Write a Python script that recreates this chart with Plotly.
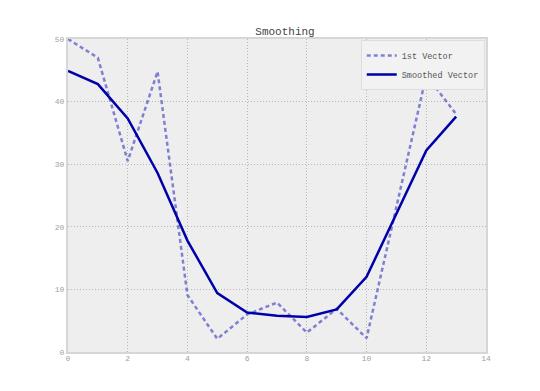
import plotly.graph_objects as go

x_vals = list(range(14))
first_vector = [50, 47, 30.5, 44.8, 9.1, 2.1, 6.0, 7.9, 3.1, 6.9, 2.2, 23.2, 44.2, 38.0]
smoothed_vector = [44.9, 42.8, 37.3, 28.6, 17.8, 9.4, 6.3, 5.8, 5.6, 6.8, 12.0, 22.1, 32.2, 37.6]
x_ticks = [0, 2, 4, 6, 8, 10, 12, 14]
y_ticks = [0, 10, 20, 30, 40, 50]

mono = "Liberation Mono, DejaVu Sans Mono, monospace"

fig = go.Figure()
fig.add_trace(go.Scatter(
    x=x_vals, y=first_vector, mode="lines", name="1st Vector",
    line=dict(color="rgba(80,80,200,0.7)", width=2.5, dash="4px,3px"),
))
fig.add_trace(go.Scatter(
    x=x_vals, y=smoothed_vector, mode="lines", name="Smoothed Vector",
    line=dict(color="#0000AA", width=2.5),
))

axis_common = dict(
    showgrid=True, gridcolor="#b8b8b8", griddash="1px,2px", gridwidth=1,
    showline=True, linecolor="#d6d6d6", linewidth=2, mirror=True,
    zeroline=False, ticks="",
    tickfont=dict(family=mono, size=8, color="#a0a0a0"),
)

fig.update_layout(
    width=540, height=391,
    margin=dict(l=60, r=62, t=31, b=47),
    paper_bgcolor="white", plot_bgcolor="#eeeeee",
    title=dict(text="Smoothing", x=0.513, xanchor="center", y=0.93, yanchor="bottom",
               font=dict(family=mono, size=11, color="#444444")),
    xaxis=dict(range=[0, 14], tickvals=x_ticks, ticklabelstandoff=-3, **axis_common),
    yaxis=dict(range=[0, 50], tickvals=y_ticks, **axis_common),
    legend=dict(x=0.997, y=0.997, xanchor="right", yanchor="top",
                bgcolor="#f2f2f2", bordercolor="#dddddd", borderwidth=1,
                font=dict(family=mono, size=8.5, color="#555555"),
                tracegroupgap=0, itemwidth=30),
    showlegend=True,
)

fig.write_html("out.html")
